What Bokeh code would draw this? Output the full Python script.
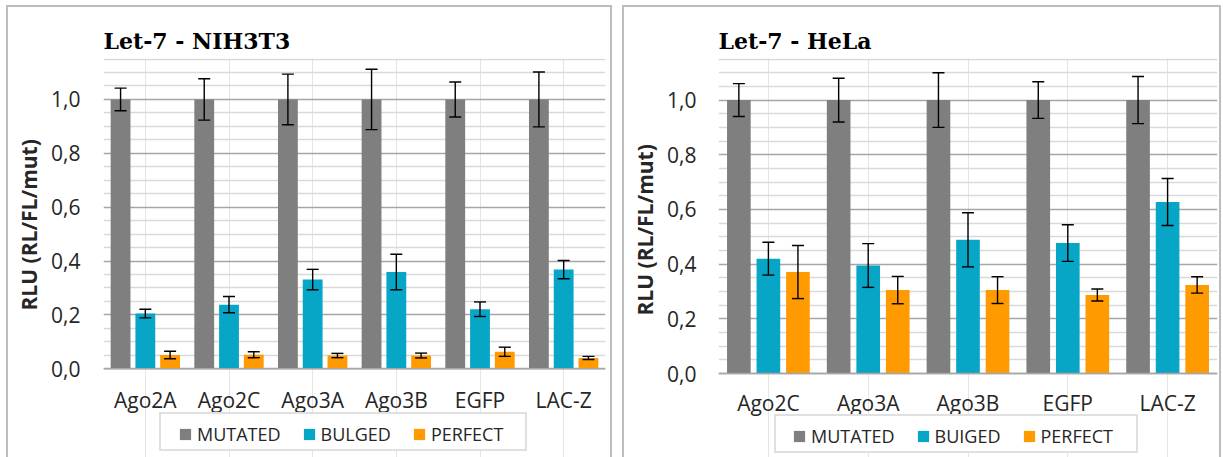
from bokeh.plotting import figure
from bokeh.models import (ColumnDataSource, FactorRange, Range1d, FixedTicker, Legend,
                          LegendItem, Spacer, CustomJSTickFormatter, LabelSet, Span, Title)
from bokeh.core.properties import value
from bokeh.layouts import row, column
from bokeh.transform import dodge
from bokeh.embed import file_html
from bokeh.resources import INLINE

# ---------------- data ----------------
nih_title = "Let-7 - NIH3T3"
nih_categories = ["Ago2A", "Ago2C", "Ago3A", "Ago3B", "EGFP", "LAC-Z"]
nih_series = ["MUTATED", "BULGED", "PERFECT"]
nih_mutated = [1.0, 1.0, 1.0, 1.0, 1.0, 1.0]
nih_mutated_err = [0.042, 0.077, 0.094, 0.112, 0.065, 0.102]
nih_bulged = [0.205, 0.238, 0.331, 0.359, 0.221, 0.368]
nih_bulged_err = [0.016, 0.030, 0.038, 0.066, 0.027, 0.034]
nih_perfect = [0.051, 0.052, 0.049, 0.049, 0.063, 0.040]
nih_perfect_err = [0.014, 0.011, 0.008, 0.009, 0.017, 0.006]

hela_title = "Let-7 - HeLa"
hela_categories = ["Ago2C", "Ago3A", "Ago3B", "EGFP", "LAC-Z"]
hela_series = ["MUTATED", "BUIGED", "PERFECT"]
hela_mutated = [1.0, 1.0, 1.0, 1.0, 1.0]
hela_mutated_err = [0.060, 0.080, 0.100, 0.067, 0.086]
hela_bulged = [0.420, 0.395, 0.489, 0.477, 0.627]
hela_bulged_err = [0.060, 0.080, 0.099, 0.067, 0.086]
hela_perfect = [0.371, 0.305, 0.305, 0.287, 0.324]
hela_perfect_err = [0.097, 0.050, 0.049, 0.022, 0.030]

y_ticks = [0.0, 0.2, 0.4, 0.6, 0.8, 1.0]
y_tick_labels = ["0,0", "0,2", "0,4", "0,6", "0,8", "1,0"]
y_minor_ticks = [0.05, 0.10, 0.15, 0.25, 0.30, 0.35, 0.45, 0.50, 0.55, 0.65,
                 0.70, 0.75, 0.85, 0.90, 0.95, 1.05, 1.10, 1.15]
y_max = 1.152
y_axis_label = "RLU (RL/FL/mut)"
series_colors = ["#7f7f7f", "#08a6c6", "#ff9a00"]

# ---------------- styling ----------------
FONT = "Open Sans"
TXT = "#262626"
OFFSETS = [-0.296, 0.0, 0.296]
BAR_W = 0.237
FIG_H = 452


def make_chart(title, cats, names, vals, errs, g):
    src = dict(cat=cats)
    for i, (v, e) in enumerate(zip(vals, errs)):
        src[f"v{i}"] = v
        src[f"lo{i}"] = [a - b for a, b in zip(v, e)]
        src[f"hi{i}"] = [a + b for a, b in zip(v, e)]
    source = ColumnDataSource(src)

    # the frame reaches down to the bottom of the figure so that the legend
    # (drawn in the frame) is not clipped; value 0 sits g["below"] px above it
    above_px = FIG_H - g["t"] - g["below"]
    y_start = -y_max * g["below"] / above_px

    p = figure(x_range=FactorRange(factors=cats), y_range=Range1d(y_start, y_max),
               width=g["w"], height=FIG_H, x_axis_location=None,
               min_border_left=g["l"], min_border_right=g["r"],
               min_border_top=g["t"], min_border_bottom=0,
               output_backend="svg", toolbar_location=None, title=title)
    p.outline_line_color = None
    p.border_fill_color = None
    p.background_fill_color = None
    p.styles = {"box-shadow": "inset 0 2px 0 #bdbdbd, inset 2px 0 0 #bdbdbd, inset -2px 0 0 #bdbdbd"}

    p.title.text_font = "DejaVu Serif"
    p.title.text_font_style = "bold"
    p.title.text_font_size = "22px"
    p.title.text_color = "black"
    p.title.align = "left"

    ticker = FixedTicker(ticks=y_ticks, minor_ticks=y_minor_ticks)
    p.yaxis.ticker = ticker
    p.yaxis.formatter = CustomJSTickFormatter(
        args=dict(tick_values=y_ticks, tick_labels=y_tick_labels),
        code="const k = tick_values.findIndex(t => Math.abs(t - tick) < 1e-9); return k >= 0 ? tick_labels[k] : '';")
    p.yaxis.axis_line_color = None
    p.yaxis.major_tick_line_color = None
    p.yaxis.minor_tick_line_color = None
    p.yaxis.major_label_text_font = FONT
    p.yaxis.major_label_text_font_size = "21px"
    p.yaxis.major_label_text_color = TXT
    p.yaxis.major_label_standoff = g["ystand"]

    p.add_layout(Title(text=y_axis_label, align="left", offset=g["ylab_off"], standoff=12,
                       text_font=FONT, text_font_style="bold", text_font_size="21px",
                       text_color=TXT), "left")

    p.ygrid.ticker = ticker
    p.ygrid.grid_line_color = "#a6a6a6"
    p.ygrid.grid_line_width = 1.5
    p.ygrid.minor_grid_line_color = "#d9d9d9"
    p.ygrid.minor_grid_line_width = 1.5

    for i, (off, col) in enumerate(zip(OFFSETS, series_colors)):
        xs = dodge("cat", off, range=p.x_range)
        p.vbar(x=xs, top=f"v{i}", bottom=0, width=BAR_W, source=source,
               fill_color=col, line_color=None)
    bars = p.renderers[-3:]
    p.add_layout(Span(location=0, dimension="width", line_color="#a6a6a6", line_width=1.5))
    for i, off in enumerate(OFFSETS):
        xs = dodge("cat", off, range=p.x_range)
        p.segment(x0=xs, y0=f"lo{i}", x1=xs, y1=f"hi{i}", source=source,
                  line_color="black", line_width=1.4)
        p.scatter(x=xs, y=f"hi{i}", marker="dash", size=12, source=source,
                  line_color="black", line_width=1.4)
        p.scatter(x=xs, y=f"lo{i}", marker="dash", size=12, source=source,
                  line_color="black", line_width=1.4)

    # category labels (x axis); xlab_y = screen px above the figure bottom
    p.add_layout(LabelSet(x="cat", y=g["xlab_y"], y_units="screen", text="cat",
                          source=source, text_align="center", text_baseline="middle",
                          text_font=value(FONT), text_font_size=value("21px"),
                          text_color=TXT))

    # legend: a frame legend plus an item legend drawn over it
    dummy = p.vbar(x="cat", top="v0", width=0.0, source=source,
                   fill_alpha=0, line_alpha=0)
    box = Legend(items=[LegendItem(label=" ", renderers=[dummy])],
                 location=g["box_loc"], orientation="horizontal", padding=0, margin=0,
                 glyph_width=1, glyph_height=g["box_h"], label_width=g["box_w"] - 1,
                 label_height=g["box_h"], label_standoff=0,
                 border_line_color="#c2c2c2", border_line_width=2,
                 background_fill_color="white", background_fill_alpha=1.0)
    items = Legend(items=[LegendItem(label=n, renderers=[bars[i]]) for i, n in enumerate(names)],
                   location=g["items_loc"], orientation="horizontal", padding=0, margin=0,
                   spacing=21, glyph_width=14, glyph_height=14, label_standoff=5,
                   label_height=20,
                   label_text_font=FONT, label_text_font_size="18px", label_text_color=TXT,
                   border_line_color=None, background_fill_alpha=0)
    p.add_layout(box)
    p.add_layout(items)
    return p


g_left = dict(w=606, l=94, r=7, t=52, below=89, ystand=17, xlab_y=58, ylab_off=147,
              box_loc=(56, 6), box_w=364, box_h=35, items_loc=(75, 11))
g_right = dict(w=599, l=95, r=4, t=53, below=84, ystand=16, xlab_y=55, ylab_off=142,
               box_loc=(56, 4), box_w=360, box_h=35, items_loc=(74, 9))

p1 = make_chart(nih_title, nih_categories, nih_series,
                [nih_mutated, nih_bulged, nih_perfect],
                [nih_mutated_err, nih_bulged_err, nih_perfect_err], g_left)
p2 = make_chart(hela_title, hela_categories, hela_series,
                [hela_mutated, hela_bulged, hela_perfect],
                [hela_mutated_err, hela_bulged_err, hela_perfect_err], g_right)

layout = column(Spacer(height=5), row(Spacer(width=6), p1, Spacer(width=10), p2))
open("out.html", "w").write(file_html(layout, INLINE))
